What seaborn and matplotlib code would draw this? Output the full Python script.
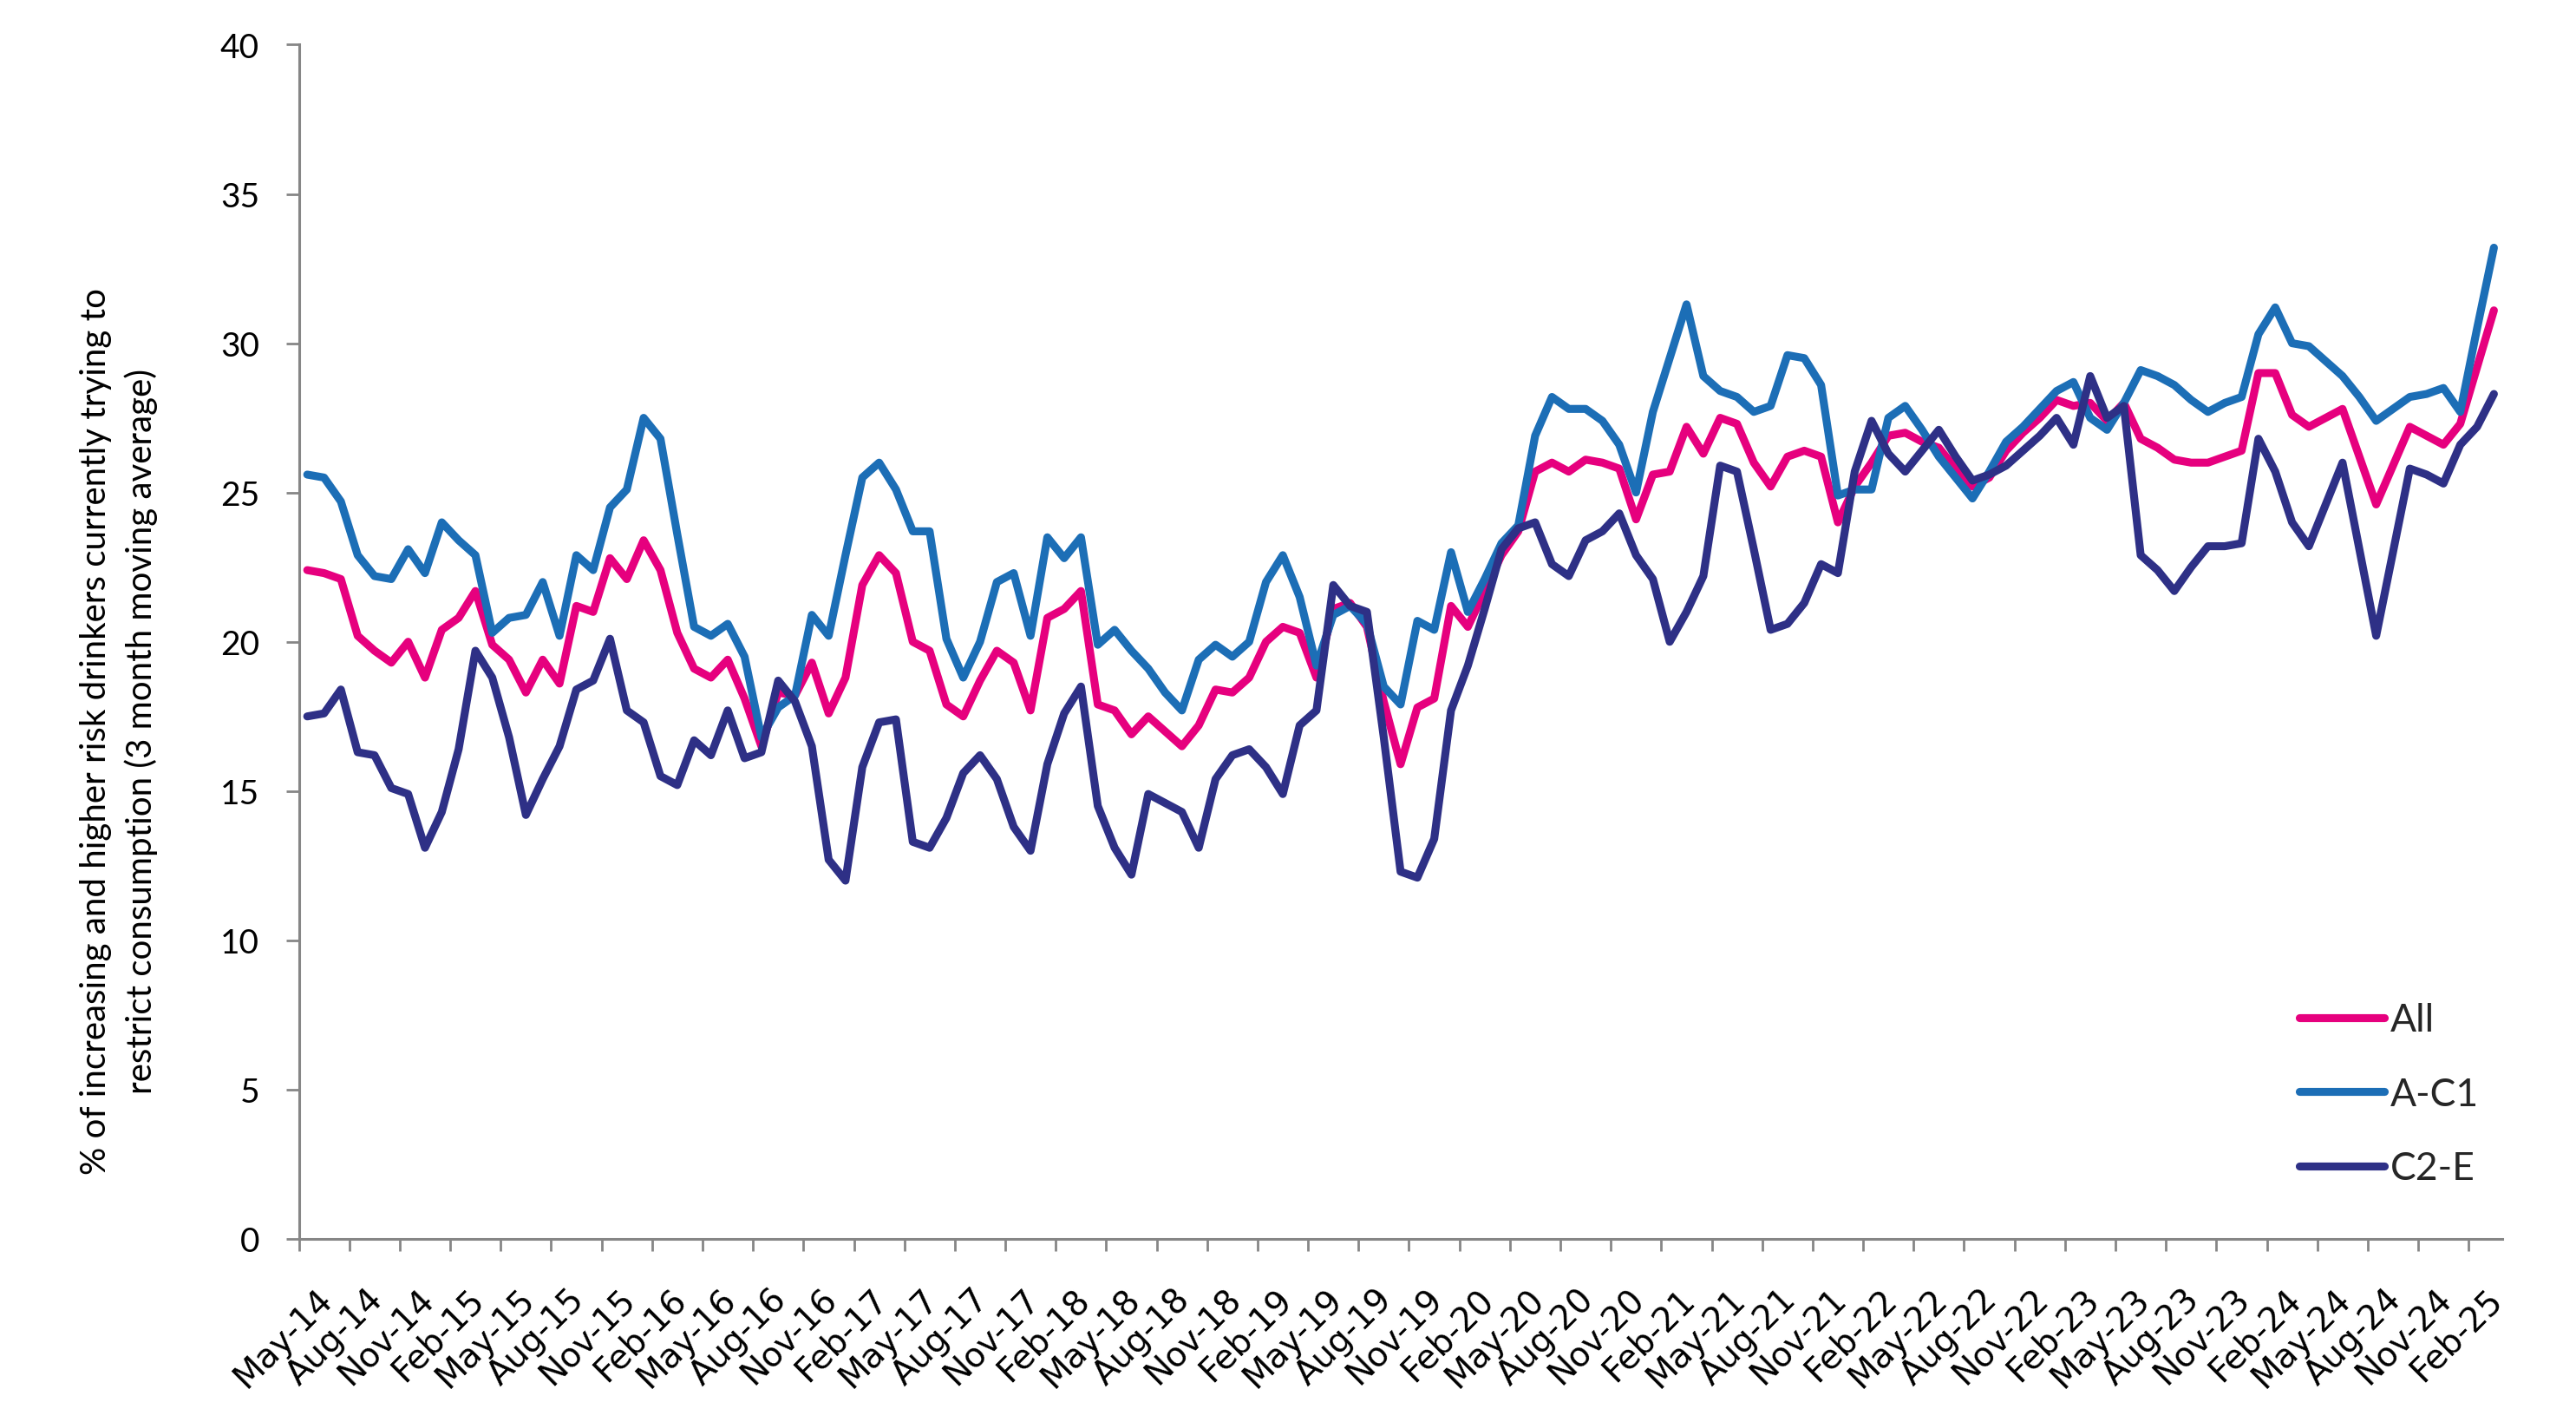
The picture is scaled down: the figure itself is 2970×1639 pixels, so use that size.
import numpy as np
import pandas as pd
import matplotlib
matplotlib.use("Agg")
import matplotlib.pyplot as plt
import matplotlib.transforms as mtransforms
from matplotlib.lines import Line2D
import seaborn as sns

# ---------------- data (monthly, May-14 .. Mar-25) ----------------
all_vals = [22.4, 22.3, 22.1, 20.2, 19.7, 19.3, 20.0, 18.8, 20.4, 20.8,
            21.7, 19.9, 19.4, 18.3, 19.4, 18.6, 21.2, 21.0, 22.8, 22.1,
            23.4, 22.4, 20.3, 19.1, 18.8, 19.4, 18.1, 16.5, 18.3, 18.2,
            19.3, 17.6, 18.8, 21.9, 22.9, 22.3, 20.0, 19.7, 17.9, 17.5,
            18.7, 19.7, 19.3, 17.7, 20.8, 21.1, 21.7, 17.9, 17.7, 16.9,
            17.5, 17.0, 16.5, 17.2, 18.4, 18.3, 18.8, 20.0, 20.5, 20.3,
            18.8, 21.1, 21.3, 20.5, 18.0, 15.9, 17.8, 18.1, 21.2, 20.5,
            21.7, 22.9, 23.7, 25.7, 26.0, 25.7, 26.1, 26.0, 25.8, 24.1,
            25.6, 25.7, 27.2, 26.3, 27.5, 27.3, 26.0, 25.2, 26.2, 26.4,
            26.2, 24.0, 25.2, 26.0, 26.9, 27.0, 26.7, 26.5, 25.8, 25.2,
            25.5, 26.4, 27.0, 27.5, 28.1, 27.9, 28.0, 27.4, 28.0, 26.8,
            26.5, 26.1, 26.0, 26.0, 26.2, 26.4, 29.0, 29.0, 27.6, 27.2,
            27.5, 27.8, 26.2, 24.6, 25.9, 27.2, 26.9, 26.6, 27.3, 29.2,
            31.1]

ac1_vals = [25.6, 25.5, 24.7, 22.9, 22.2, 22.1, 23.1, 22.3, 24.0, 23.4,
            22.9, 20.3, 20.8, 20.9, 22.0, 20.2, 22.9, 22.4, 24.5, 25.1,
            27.5, 26.8, 23.6, 20.5, 20.2, 20.6, 19.5, 16.8, 17.8, 18.2,
            20.9, 20.2, 22.9, 25.5, 26.0, 25.1, 23.7, 23.7, 20.1, 18.8,
            20.0, 22.0, 22.3, 20.2, 23.5, 22.8, 23.5, 19.9, 20.4, 19.7,
            19.1, 18.3, 17.7, 19.4, 19.9, 19.5, 20.0, 22.0, 22.9, 21.5,
            19.2, 20.9, 21.2, 20.6, 18.5, 17.9, 20.7, 20.4, 23.0, 21.0,
            22.1, 23.3, 23.9, 26.9, 28.2, 27.8, 27.8, 27.4, 26.6, 25.0,
            27.7, 29.5, 31.3, 28.9, 28.4, 28.2, 27.7, 27.9, 29.6, 29.5,
            28.6, 24.9, 25.1, 25.1, 27.5, 27.9, 27.1, 26.2, 25.5, 24.8,
            25.7, 26.7, 27.2, 27.8, 28.4, 28.7, 27.5, 27.1, 28.0, 29.1,
            28.9, 28.6, 28.1, 27.7, 28.0, 28.2, 30.3, 31.2, 30.0, 29.9,
            29.4, 28.9, 28.2, 27.4, 27.8, 28.2, 28.3, 28.5, 27.7, 30.5,
            33.2]

c2e_vals = [17.5, 17.6, 18.4, 16.3, 16.2, 15.1, 14.9, 13.1, 14.3, 16.4,
            19.7, 18.8, 16.8, 14.2, 15.4, 16.5, 18.4, 18.7, 20.1, 17.7,
            17.3, 15.5, 15.2, 16.7, 16.2, 17.7, 16.1, 16.3, 18.7, 18.0,
            16.5, 12.7, 12.0, 15.8, 17.3, 17.4, 13.3, 13.1, 14.1, 15.6,
            16.2, 15.4, 13.8, 13.0, 15.9, 17.6, 18.5, 14.5, 13.1, 12.2,
            14.9, 14.6, 14.3, 13.1, 15.4, 16.2, 16.4, 15.8, 14.9, 17.2,
            17.7, 21.9, 21.2, 21.0, 16.8, 12.3, 12.1, 13.4, 17.7, 19.2,
            21.1, 23.1, 23.8, 24.0, 22.6, 22.2, 23.4, 23.7, 24.3, 22.9,
            22.1, 20.0, 21.0, 22.2, 25.9, 25.7, 23.1, 20.4, 20.6, 21.3,
            22.6, 22.3, 25.7, 27.4, 26.3, 25.7, 26.4, 27.1, 26.2, 25.4,
            25.6, 25.9, 26.4, 26.9, 27.5, 26.6, 28.9, 27.5, 27.9, 22.9,
            22.4, 21.7, 22.5, 23.2, 23.2, 23.3, 26.8, 25.7, 24.0, 23.2,
            24.6, 26.0, 23.1, 20.2, 23.0, 25.8, 25.6, 25.3, 26.6, 27.2,
            28.3]

series_names = ["All", "A-C1", "C2-E"]
series_colors = ["#E6007E", "#1C6EB6", "#2E3086"]
months = pd.date_range("2014-05-01", periods=len(all_vals), freq="MS")
month_labels = [d.strftime("%b-%y") for d in months]
y_ticks = [0, 5, 10, 15, 20, 25, 30, 35, 40]
y_label = ("% of increasing and higher risk drinkers currently trying to\n"
           "restrict consumption (3 month moving average)")

# ---------------- frame ----------------
n = len(all_vals)
df = pd.concat([
    pd.DataFrame({"idx": np.arange(n), "value": vals, "series": name})
    for name, vals in zip(series_names, [all_vals, ac1_vals, c2e_vals])
], ignore_index=True)

sns.set_theme(style="white")
plt.rcParams["font.family"] = ["DejaVu Sans"]

DPI = 200
fig = plt.figure(figsize=(2970 / DPI, 1640 / DPI), dpi=DPI)
ax = fig.add_axes([0.1160, 0.1287, 0.8554, 0.8393])

palette = dict(zip(series_names, series_colors))
sns.lineplot(data=df, x="idx", y="value", hue="series", hue_order=series_names,
             palette=palette, linewidth=3.3, estimator=None, sort=False,
             legend=False, ax=ax)
for ln in ax.lines:
    ln.set_solid_joinstyle("round")
    ln.set_solid_capstyle("round")

ax.set_xlim(-0.5, n - 0.5)
ax.set_ylim(0, 40)

grey = "#868686"
for s in ["top", "right"]:
    ax.spines[s].set_visible(False)
for s in ["left", "bottom"]:
    ax.spines[s].set_color(grey)
    ax.spines[s].set_linewidth(1.1)

# y axis
ax.set_yticks(y_ticks)
ax.set_yticklabels([str(v) for v in y_ticks], fontfamily="Lato", fontsize=14)
ax.tick_params(axis="y", which="major", left=True, direction="out", length=5.4,
               width=1, color=grey, pad=11, labelcolor="black")

# x axis: labels at every 3rd month, tick marks at category boundaries
lab_pos = list(range(0, n, 3))
ax.set_xticks(lab_pos)
ax.set_xticklabels([month_labels[i] for i in lab_pos], fontsize=14)
ax.set_xticks(np.arange(-0.5, n - 2, 3), minor=True)
ax.tick_params(axis="x", which="major", bottom=True, length=0, pad=0,
               labelcolor="black")
ax.tick_params(axis="x", which="minor", bottom=True, direction="out",
               length=5, width=1, color=grey)
offset = mtransforms.ScaledTranslation(23 / DPI, -63 / DPI, fig.dpi_scale_trans)
for lbl in ax.get_xticklabels():
    lbl.set_rotation(45)
    lbl.set_ha("right")
    lbl.set_va("center")
    lbl.set_rotation_mode("anchor")
    lbl.set_transform(lbl.get_transform() + offset)

ax.set_xlabel("")
ax.set_ylabel(y_label, fontfamily="Lato", fontsize=14.5, linespacing=1.45,
              ha="center", va="center", color="black")
ax.yaxis.set_label_coords(-0.0817, 0.426)

handles = [Line2D([], [], color=c, lw=3.3, solid_capstyle="round")
           for c in series_colors]
ax.legend(handles, series_names, loc="center left", bbox_to_anchor=(0.908, 0.121),
          frameon=False, prop={"family": "Lato", "size": 16}, handlelength=2.2,
          handletextpad=0.15, labelspacing=1.0, borderaxespad=0, borderpad=0)

fig.savefig("out.png", dpi=DPI, facecolor="white")
